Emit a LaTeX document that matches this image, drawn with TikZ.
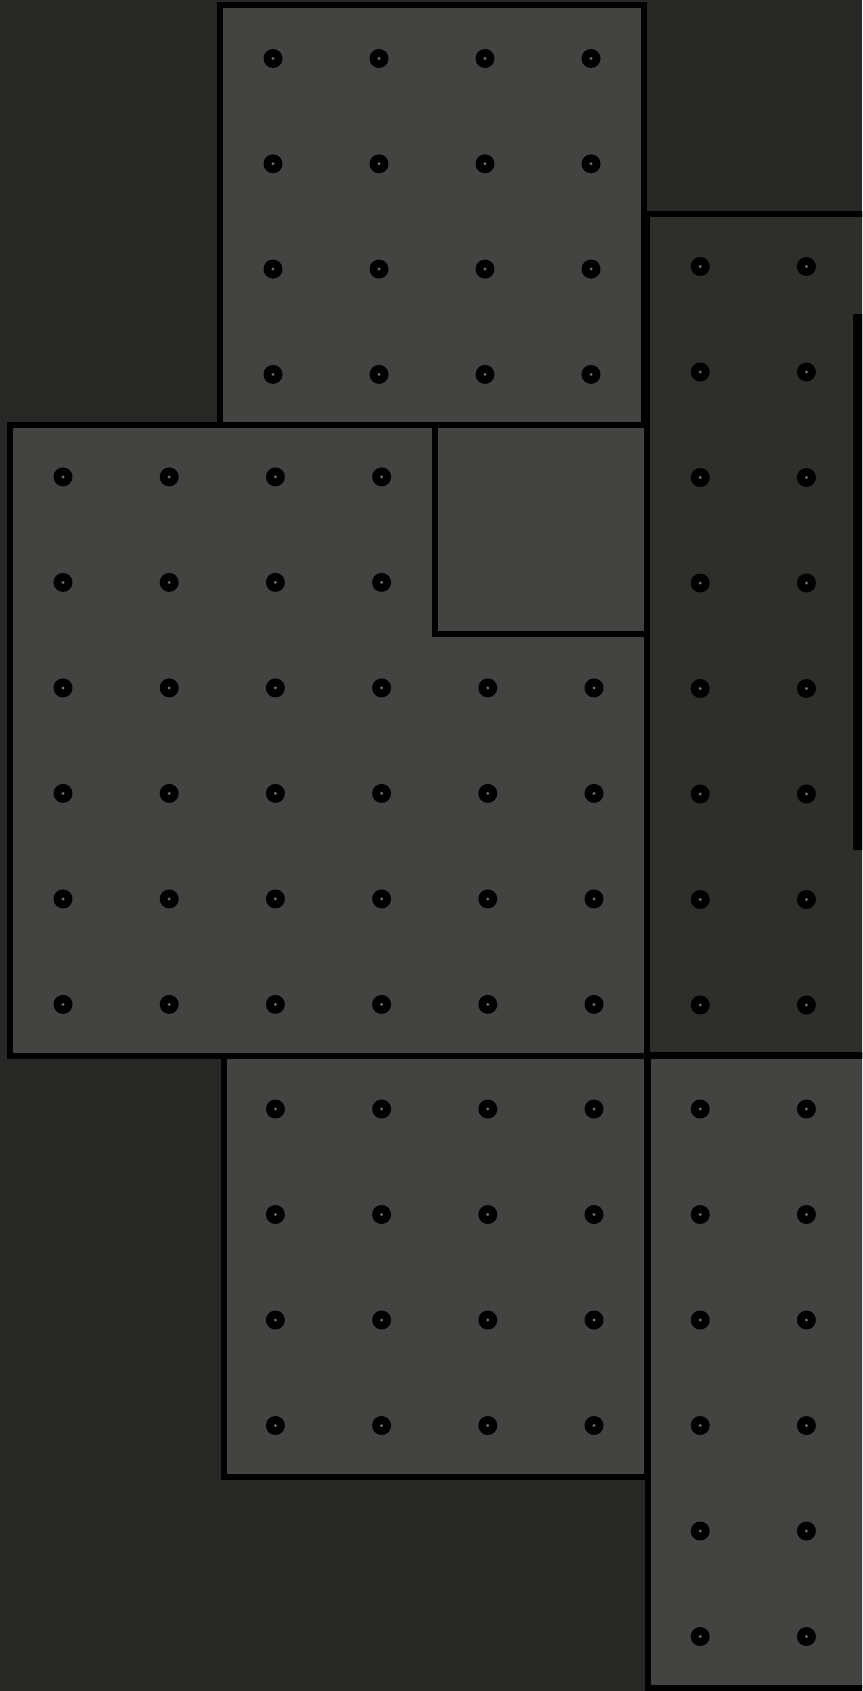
\documentclass[tikz,border=0pt]{standalone}
\usetikzlibrary{calc}
\definecolor{bgc}{RGB}{39,39,37}
\definecolor{lightbox}{RGB}{67,68,65}
\definecolor{darkbox}{RGB}{46,46,43}
\definecolor{dotcore}{RGB}{110,110,105}
\tikzset{
  panel/.style={draw=black, line width=6pt, fill=lightbox},
  darkpanel/.style={draw=black, line width=6pt, fill=darkbox},
  peg/.style={fill=black},
  pegcore/.style={fill=dotcore}
}
\newcommand{\pegat}[2]{\fill[peg] (#1,#2) circle (9.5); \fill[pegcore] (#1,#2) circle (1.6);}
\begin{document}
\begin{tikzpicture}[x=1pt,y=-1pt]
\useasboundingbox (0,0) rectangle (862,1691);
\clip (0,0) rectangle (862,1691);
\fill[bgc] (0,0) rectangle (862,1691);
% top box
\draw[panel] (220,5) rectangle (644,425);
% right dark box
\draw[darkpanel] (647,213.7) rectangle (900,1055);
% left big box
\draw[panel] (10,425) rectangle (646.5,1055.5);
% small notch box
\draw[panel] (435,424.5) rectangle (646.5,633.5);
% bottom left box
\draw[panel] (223.7,1055.5) rectangle (646.7,1477);
% bottom right box
\draw[panel] (648,1055.5) rectangle (900,1688);
% black bar at right edge
\fill[black, rounded corners=2pt] (853,314) rectangle (880,850);
% pegs: top box
\foreach \i in {0,...,3}{\foreach \j in {0,...,3}{
  \pegat{273+106*\i}{58.5+105.3*\j}}}
% pegs: left box
\foreach \j in {0,...,5}{\foreach \i in {0,...,5}{
  \pgfmathtruncatemacro{\skip}{(\j<2 && \i>3) ? 1 : 0}
  \ifnum\skip=0 \pegat{63+106.2*\i}{476.9+105.5*\j}\fi}}
% pegs: right dark box
\foreach \j in {0,...,7}{\foreach \i in {0,1}{
  \pegat{700.2+106.2*\i}{266.5+105.5*\j}}}
% pegs: bottom left box
\foreach \j in {0,...,3}{\foreach \i in {0,...,3}{
  \pegat{275.4+106.2*\i}{1109+105.5*\j}}}
% pegs: bottom right box
\foreach \j in {0,...,5}{\foreach \i in {0,1}{
  \pegat{700.2+106.2*\i}{1109+105.5*\j}}}
\end{tikzpicture}
\end{document}
